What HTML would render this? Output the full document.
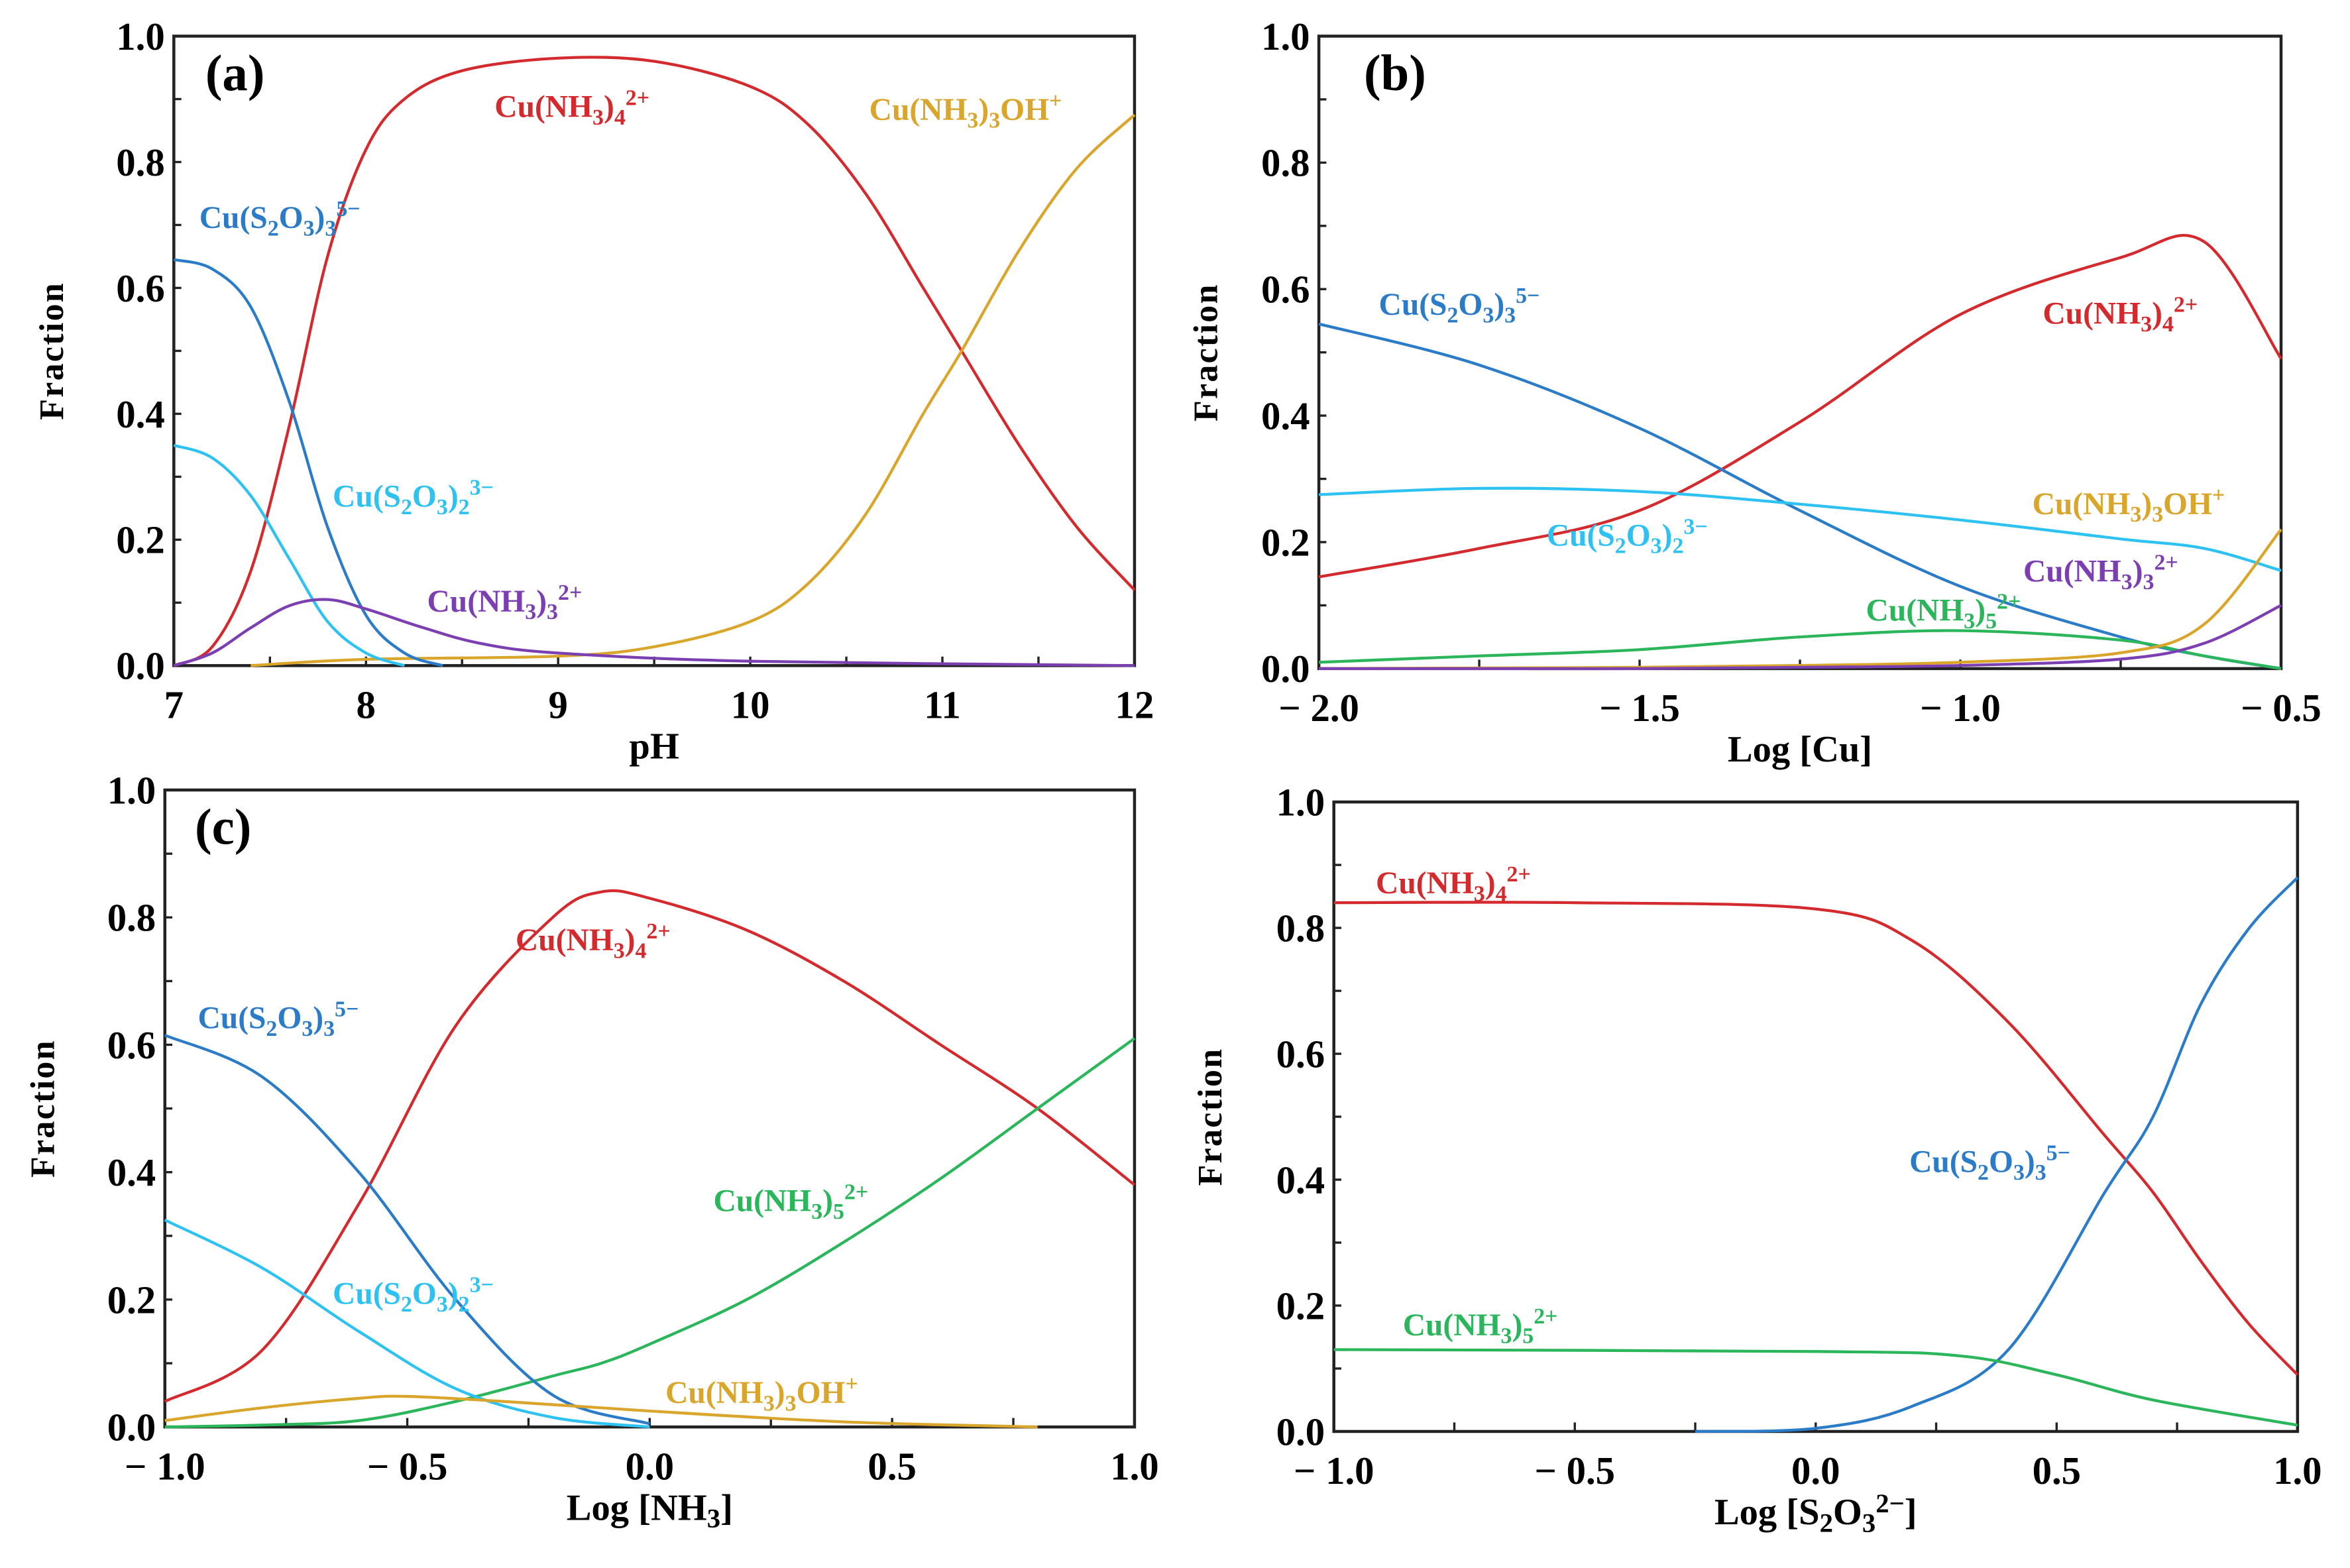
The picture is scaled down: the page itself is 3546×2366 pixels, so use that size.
<!DOCTYPE html>
<html><head><meta charset="utf-8"><style>
html,body{margin:0;padding:0;background:#fff;}
svg{display:block;}
text{font-family:"Liberation Serif",serif;font-weight:bold;}
</style></head><body>
<svg id="fig" width="3546" height="2366" viewBox="0 0 1568 1046" xmlns="http://www.w3.org/2000/svg"></svg>
<script>
// ---- Panel (a): pH ----
const aRedX=[7,7.2,7.4,7.6,7.8,8,8.2,8.5,9,9.5,10,10.3,10.6,10.9,11.1,11.4,11.7,12];
const aRedY=[0,0.03,0.15,0.38,0.65,0.82,0.9,0.945,0.965,0.96,0.92,0.86,0.75,0.6,0.5,0.35,0.22,0.12];
const aOrgX=[7.4,8,9,9.5,10,10.3,10.6,10.9,11.1,11.4,11.7,12];
const aOrgY=[0,0.01,0.015,0.03,0.07,0.13,0.24,0.4,0.5,0.66,0.79,0.875];
const aBluX=[7,7.2,7.4,7.6,7.8,8,8.2,8.4];
const aBluY=[0.645,0.63,0.57,0.42,0.22,0.08,0.02,0];
const aLbX=[7,7.2,7.4,7.6,7.8,8,8.2];
const aLbY=[0.35,0.33,0.27,0.17,0.07,0.02,0];
const aPurX=[7,7.2,7.4,7.6,7.8,8,8.3,8.6,9,10,12];
const aPurY=[0,0.02,0.06,0.095,0.105,0.09,0.06,0.035,0.02,0.007,0];
const aTicks=["7","8","9","10","11","12"];
// ---- Panel (b): Log[Cu] ----
const bX=[-2,-1.75,-1.5,-1.25,-1,-0.75,-0.62,-0.5];
const bRed=[0.145,0.19,0.25,0.39,0.56,0.65,0.675,0.49];
const bBlu=[0.545,0.48,0.38,0.25,0.13,0.05,0.02,0];
const bLb=[0.275,0.285,0.28,0.26,0.235,0.205,0.19,0.155];
const bGrn=[0.01,0.02,0.03,0.05,0.06,0.045,0.02,0];
const bOrg=[0,0.001,0.002,0.005,0.01,0.025,0.07,0.22];
const bPur=[0,0,0,0.002,0.005,0.015,0.04,0.1];
const bTicks=["\u2212 2.0","\u2212 1.5","\u2212 1.0","\u2212 0.5"];
// ---- Panel (c): Log[NH3] ----
const cX=[-1,-0.8,-0.6,-0.4,-0.2,-0.1,0,0.2,0.4,0.6,0.8,1];
const cRed=[0.04,0.12,0.35,0.63,0.8,0.84,0.83,0.78,0.7,0.6,0.5,0.38];
const cGrn=[0,0.003,0.01,0.04,0.08,0.1,0.13,0.2,0.29,0.39,0.5,0.61];
const cBluX=[-1,-0.8,-0.6,-0.4,-0.2,0];
const cBlu=[0.615,0.55,0.4,0.2,0.05,0.005];
const cLb=[0.325,0.25,0.15,0.06,0.015,0];
const cOrgX=[-1,-0.8,-0.6,-0.5,-0.3,0,0.4,0.8];
const cOrg=[0.01,0.03,0.045,0.048,0.04,0.025,0.008,0];
const cTicks=["\u2212 1.0","\u2212 0.5","0.0","0.5","1.0"];
// ---- Panel (d): Log[S2O3] ----
const dRedX=[-1,-0.5,0,0.2,0.4,0.6,0.7,0.8,0.9,1];
const dRed=[0.84,0.84,0.83,0.78,0.65,0.47,0.38,0.27,0.17,0.09];
const dBluX=[-0.25,0,0.2,0.4,0.6,0.7,0.8,0.9,1];
const dBlu=[0,0.005,0.04,0.13,0.38,0.5,0.68,0.8,0.88];
const dGrnX=[-1,0,0.3,0.5,0.7,1];
const dGrn=[0.13,0.127,0.12,0.09,0.05,0.01];
const yTicks=["0.0","0.2","0.4","0.6","0.8","1.0"];

const C={red:"#d42a2e",blu:"#2b7cc8",lb:"#2ec2f2",pur:"#7b3fb2",org:"#d9a52b",grn:"#2bb65c"};
const NS="http://www.w3.org/2000/svg";
const svg=document.getElementById('fig');
function mk(tag,attrs,parent){const e=document.createElementNS(NS,tag);for(const k in attrs)e.setAttribute(k,attrs[k]);(parent||svg).appendChild(e);return e;}

function rich(el,parts,fs){
  let cur=0;
  parts.forEach(p=>{const t=document.createElementNS(NS,'tspan');
    let target=0,txt=p,small=false;
    if(p[0]==='_'){target=5;txt=p.slice(1);small=true;}
    else if(p[0]==='^'){target=-8;txt=p.slice(1);small=true;}
    const dy=target-cur;cur=target;
    if(dy!==0)t.setAttribute('dy',dy);
    if(small)t.setAttribute('font-size',Math.round(fs*0.72));
    t.textContent=txt;el.appendChild(t);});
}

function panel(P){
  const g=mk('g',{});
  
  
  const sx=v=>P.L+(v-P.x0)/(P.x1-P.x0)*(P.R-P.L);
  const sy=v=>P.B-v*(P.B-P.T);
  const fr=mk('rect',{x:P.L,y:P.T,width:P.R-P.L,height:P.B-P.T,fill:"none",stroke:"#222","stroke-width":2},g);
  
  
  for(let i=0;i<=10;i++){const y=sy(i/10);mk('line',{x1:P.L,x2:P.L+5,y1:y,y2:y,stroke:"#222","stroke-width":1.5},g);}
  yTicks.forEach((t,i)=>{const e=mk('text',{x:P.L-6,y:sy(i*0.2)+9,"text-anchor":"end","font-size":26},g);e.textContent=t;
    
    });
  const n=P.ticks.length;
  for(let i=0;i<(n-1)*2+1;i++){const v=P.x0+(P.x1-P.x0)*i/((n-1)*2);const x=sx(v);mk('line',{x1:x,x2:x,y1:P.B,y2:P.B-6,stroke:"#222","stroke-width":1.5},g);}
  P.ticks.forEach((t,i)=>{const v=P.x0+(P.x1-P.x0)*i/(n-1);const e=mk('text',{x:sx(v),y:P.B+35,"text-anchor":"middle","font-size":26},g);e.textContent=t;
    
    });
  const ft=mk('text',{x:0,y:0,"text-anchor":"middle","font-size":23,"letter-spacing":"1",transform:`translate(${P.fx},${(P.T+P.B)/2}) rotate(-90)`},g);ft.textContent="Fraction";
  
  
  const xt=mk('text',{x:(P.L+P.R)/2,y:P.B+62,"text-anchor":"middle","font-size":25},g);
  
  
  rich(xt,P.xtitle,25);
  P.series.forEach(s=>{
    const pts=s.x.map((v,i)=>[sx(v),sy(s.y[i])]);
    let d=`M${pts[0][0]},${pts[0][1]}`;
    for(let i=0;i<pts.length-1;i++){const p0=pts[Math.max(0,i-1)],p1=pts[i],p2=pts[i+1],p3=pts[Math.min(pts.length-1,i+2)];
      const c1=[p1[0]+(p2[0]-p0[0])/6,p1[1]+(p2[1]-p0[1])/6],c2=[p2[0]-(p3[0]-p1[0])/6,p2[1]-(p3[1]-p1[1])/6];
      d+=` C${c1[0]},${c1[1]} ${c2[0]},${c2[1]} ${p2[0]},${p2[1]}`;}
    const p=mk('path',{d,fill:"none",stroke:s.c,"stroke-width":1.9},g);
    
    
  });
  P.labels.forEach(l=>{const e=mk('text',{x:l[0],y:l[1],fill:l[2],"font-size":21},g);rich(e,l[3],21);
    
    });
  if(P.tag){const e=mk('text',{x:P.tag[0],y:P.tag[1],"font-size":34},g);e.textContent=P.tag[2];
    
    }
}
const L4=["Cu(NH","_3",")","_4","^2+"],LOH=["Cu(NH","_3",")","_3","OH","^+"],LS3=["Cu(S","_2","O","_3",")","_3","^5\u2212"],LS2=["Cu(S","_2","O","_3",")","_2","^3\u2212"],L3=["Cu(NH","_3",")","_3","^2+"],L5=["Cu(NH","_3",")","_5","^2+"];

panel({name:"panel-a",L:116,R:757,T:24,B:444,x0:7,x1:12,ticks:aTicks,fx:42,xtitle:["pH"],tag:[137,60,"(a)"],
 series:[{n:"line-cu-nh3-4",c:C.red,x:aRedX,y:aRedY},{n:"line-cu-nh3-3-oh",c:C.org,x:aOrgX,y:aOrgY},{n:"line-cu-s2o3-3",c:C.blu,x:aBluX,y:aBluY},{n:"line-cu-s2o3-2",c:C.lb,x:aLbX,y:aLbY},{n:"line-cu-nh3-3",c:C.pur,x:aPurX,y:aPurY}],
 labels:[[330,78,C.red,L4],[580,80,C.org,LOH],[133,152,C.blu,LS3],[222,338,C.lb,LS2],[285,408,C.pur,L3]]});
panel({name:"panel-b",L:880,R:1522,T:24,B:446,x0:-2,x1:-0.5,ticks:bTicks,fx:812,xtitle:["Log [Cu]"],tag:[910,60,"(b)"],
 series:[{n:"line-cu-nh3-4",c:C.red,x:bX,y:bRed},{n:"line-cu-s2o3-3",c:C.blu,x:bX,y:bBlu},{n:"line-cu-s2o3-2",c:C.lb,x:bX,y:bLb},{n:"line-cu-nh3-5",c:C.grn,x:bX,y:bGrn},{n:"line-cu-nh3-3-oh",c:C.org,x:bX,y:bOrg},{n:"line-cu-nh3-3",c:C.pur,x:bX,y:bPur}],
 labels:[[920,210,C.blu,LS3],[1363,216,C.red,L4],[1032,364,C.lb,LS2],[1356,343,C.org,LOH],[1350,388,C.pur,L3],[1245,414,C.grn,L5]]});
panel({name:"panel-c",L:110,R:757,T:527,B:952,x0:-1,x1:1,ticks:cTicks,fx:36,xtitle:["Log [NH","_3","]"],tag:[130,563,"(c)"],
 series:[{n:"line-cu-nh3-4",c:C.red,x:cX,y:cRed},{n:"line-cu-nh3-5",c:C.grn,x:cX,y:cGrn},{n:"line-cu-s2o3-3",c:C.blu,x:cBluX,y:cBlu},{n:"line-cu-s2o3-2",c:C.lb,x:cBluX,y:cLb},{n:"line-cu-nh3-3-oh",c:C.org,x:cOrgX,y:cOrg}],
 labels:[[344,634,C.red,L4],[132,686,C.blu,LS3],[476,808,C.grn,L5],[222,870,C.lb,LS2],[444,936,C.org,LOH]]});
panel({name:"panel-d",L:890,R:1533,T:535,B:955,x0:-1,x1:1,ticks:cTicks,fx:815,xtitle:["Log [S","_2","O","_3","^2\u2212","]"],tag:null,
 series:[{n:"line-cu-nh3-4",c:C.red,x:dRedX,y:dRed},{n:"line-cu-s2o3-3",c:C.blu,x:dBluX,y:dBlu},{n:"line-cu-nh3-5",c:C.grn,x:dGrnX,y:dGrn}],
 labels:[[918,596,C.red,L4],[1274,782,C.blu,LS3],[936,891,C.grn,L5]]});
</script>
</body></html>
